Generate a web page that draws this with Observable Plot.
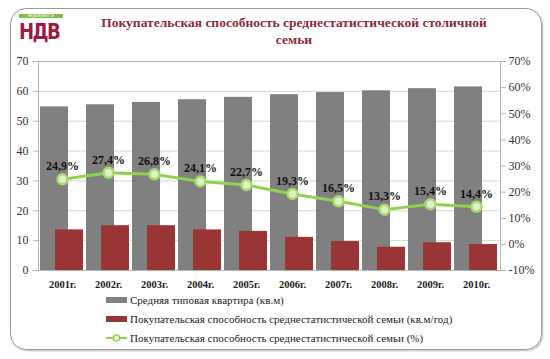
<!DOCTYPE html>
<html><head><meta charset="utf-8">
<script src="https://cdn.jsdelivr.net/npm/d3@7"></script>
<script src="https://cdn.jsdelivr.net/npm/@observablehq/plot@0.6"></script>
<style>
body{margin:0;background:#fff;}
#wrap{position:relative;width:550px;height:359px;overflow:hidden;background:#fff;}
#card{position:absolute;left:10px;top:8px;width:530px;height:340px;border:1px solid #9a9a9a;border-radius:16px;box-shadow:1px 1px 2px #bbb;}
#logo{position:absolute;left:19px;top:14px;width:44px;}
#logo .bar{height:4px;background:#7cc142;color:#fff;font:3px sans-serif;text-align:center;line-height:4px;overflow:hidden;}
#logo .txt{font:bold 22px "DejaVu Sans",sans-serif;color:#9b1b3e;letter-spacing:-2px;line-height:22px;margin-top:3px;transform:scaleX(0.82);transform-origin:left;}
#title{position:absolute;left:80px;top:14px;width:428px;text-align:center;font-weight:bold;font-size:13.5px;font-family:"Times New Roman","Liberation Serif","DejaVu Serif",Tinos,serif;color:#8b2a3a;line-height:17px;}
#chart{position:absolute;left:0;top:50px;}
#legend{position:absolute;left:106px;top:290px;font-size:11px;font-family:"Times New Roman","Liberation Serif","DejaVu Serif",Tinos,serif;color:#222;}
#legend .row{height:19px;display:flex;align-items:center;}
#legend .sw{width:21px;height:6px;margin-right:3px;}
</style></head>
<body><div id="wrap">
<div id="card"></div>
<div id="logo"><div class="bar">НЕДВИЖИМОСТЬ</div><div class="txt">НДВ</div></div>
<div id="title">Покупательская способность среднестатистической столичной<br>семьи</div>
<div id="chart"></div>
<div id="legend"></div>
</div>
<script>
const years = ["2001г.","2002г.","2003г.","2004г.","2005г.","2006г.","2007г.","2008г.","2009г.","2010г."];
const flatSize = [54.8, 55.5, 56.3, 57.2, 58.0, 58.9, 59.6, 60.2, 60.9, 61.5];
const affordSqm = [13.6, 15.0, 15.0, 13.6, 13.1, 11.1, 9.7, 7.8, 9.3, 8.7];
const affordPct = [24.9, 27.4, 26.8, 24.1, 22.7, 19.3, 16.5, 13.3, 15.4, 14.4];
const leftTicks = [0,10,20,30,40,50,60,70];
const pctTicks = [-10,0,10,20,30,40,50,60,70];
const seriesNames = ["Средняя типовая квартира (кв.м)","Покупательская способность среднестатистической семьи (кв.м/год)","Покупательская способность среднестатистической семьи (%)"];
const colors = ["#808080","#993535","#92d050"];

const toLeft = p => (p + 10) * 70 / 80;
const rows = years.map((y,i)=>({year:y, flat:flatSize[i], sqm:affordSqm[i], pct:affordPct[i], pctY:toLeft(affordPct[i])}));
const serif = "'Times New Roman', 'Liberation Serif', 'DejaVu Serif', Tinos, serif";

const chart = Plot.plot({
  width: 550, height: 240,
  marginLeft: 38, marginRight: 50, marginTop: 11, marginBottom: 20,
  style: {background:"transparent", fontFamily: serif},
  x: {type:"band", domain: years, padding: 0, label: null},
  y: {domain:[0,70], label: null},
  marks: [
    Plot.gridY(leftTicks, {stroke:"#d4d4d4", strokeOpacity:1}),
    Plot.barY(rows, {x:"year", y:"flat", fill:colors[0], insetLeft:1, insetRight:17}),
    Plot.barY(rows, {x:"year", y:"sqm", fill:colors[1], insetLeft:16, insetRight:2}),
    Plot.frame({stroke:"#b5b5b5"}),
    Plot.axisY(leftTicks, {anchor:"left", tickSize:5, tickPadding:5, stroke:"#b5b5b5", fill:"#333", fontSize:12, label:null}),
    Plot.axisY(pctTicks.map(toLeft), {anchor:"right", tickSize:5, tickPadding:3, stroke:"#b5b5b5", fill:"#333", fontSize:12, label:null, tickFormat: d => Math.round(d*80/70 - 10) + "%"}),
    Plot.axisX({tickSize:0, tickPadding:10, fontSize:10.5, fontWeight:"bold", fill:"#222", label:null}),
    Plot.line(rows, {x:"year", y:"pctY", stroke:colors[2], strokeWidth:3}),
    Plot.dot(rows, {x:"year", y:"pctY", r:5, fill:"#dff0c8", stroke:"#a6d96a", strokeWidth:2.5}),
    Plot.text(rows, {x:"year", y:"pctY", text: d => d.pct.toFixed(1).replace(".", ",") + "%", dy:-13, fontSize:12, fontWeight:"bold", fill:"#111"})
  ]
});
document.getElementById("chart").appendChild(chart);

const lg = document.getElementById("legend");
seriesNames.forEach((n,i)=>{
  const r = document.createElement("div"); r.className="row";
  if(i<2){ r.innerHTML = `<div class="sw" style="background:${colors[i]}"></div><span>${n}</span>`; }
  else { r.innerHTML = `<svg width="21" height="10" style="margin-right:3px"><line x1="0" y1="5" x2="21" y2="5" stroke="${colors[2]}" stroke-width="2"/><circle cx="10.5" cy="5" r="3" fill="#fff" stroke="${colors[2]}" stroke-width="1.5"/></svg><span>${n}</span>`; }
  lg.appendChild(r);
});
</script>
</body></html>
